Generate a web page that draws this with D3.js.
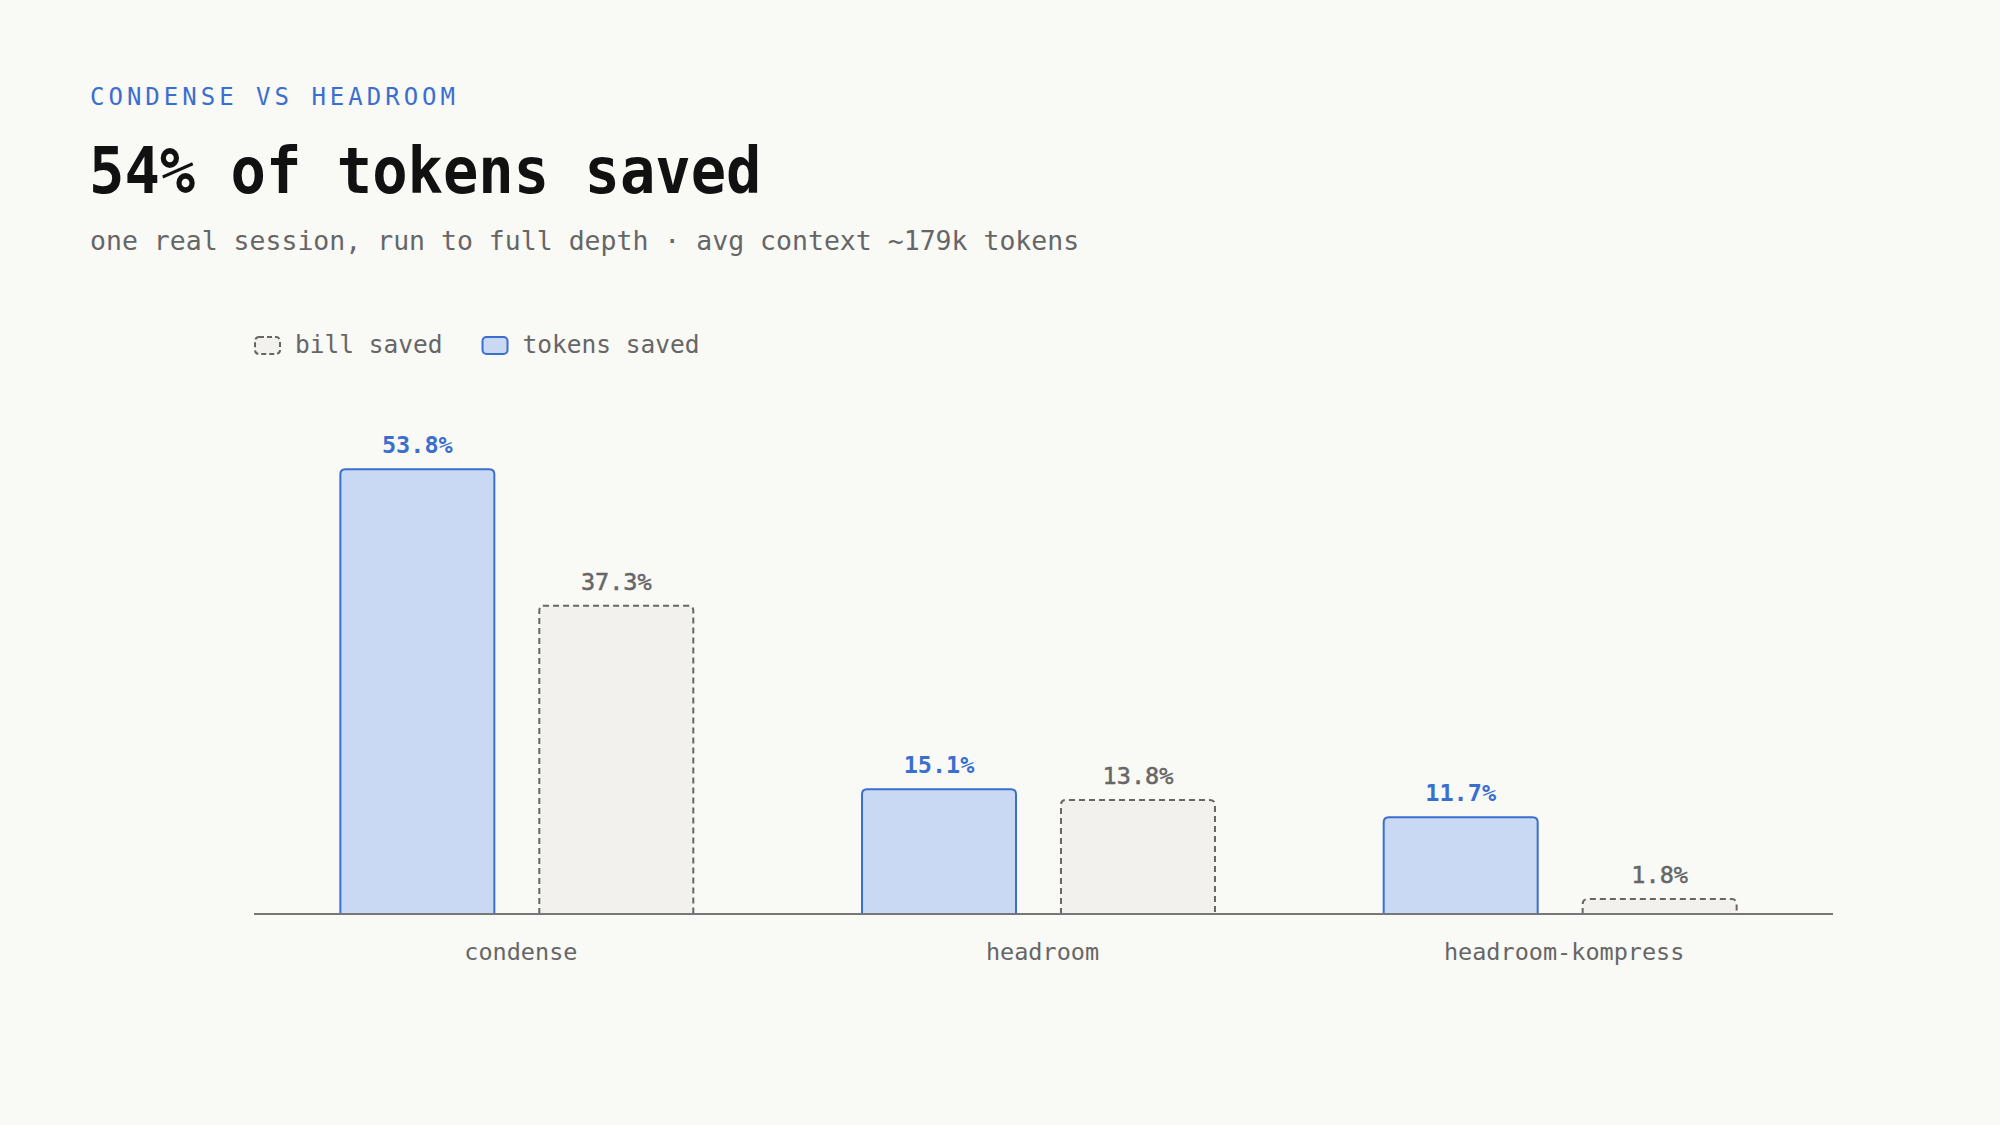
<!DOCTYPE html>
<html>
<head>
<meta charset="utf-8">
<script src="https://cdn.jsdelivr.net/npm/d3@7"></script>
<style>
  html, body { margin: 0; padding: 0; background: #f9f9f6; }
  svg { display: block; font-family: "DejaVu Sans Mono", "Liberation Mono", monospace; }
</style>
</head>
<body>
<div id="chart"></div>
<script>
// data
var categories = ['condense', 'headroom', 'headroom-kompress'];
var series = ['tokens', 'bill'];
var tokensSaved = [53.8, 15.1, 11.7];
var billSaved = [37.3, 13.8, 1.8];
var legendItems = [{key: 'bill', label: 'bill saved'}, {key: 'tokens', label: 'tokens saved'}];

var W = 2000, H = 1125;
var margin = {left: 256, right: 179, top: 418, bottom: 211};
var axisX = [254, 1833];
var blue = '#3a6fcf';
var grey = '#666';

var svg = d3.select('#chart').append('svg')
	.attr('width', W)
	.attr('height', H);

svg.append('rect').attr('width', W).attr('height', H).attr('fill', '#f9f9f6');

// Header
svg.append('text')
	.attr('x', 90).attr('y', 105)
	.attr('fill', blue)
	.attr('font-size', 24)
	.attr('letter-spacing', 4)
	.text('CONDENSE VS HEADROOM');

svg.append('text')
	.attr('transform', 'translate(89,193) scale(1,1.08)')
	.attr('fill', '#111')
	.attr('font-size', 58.8)
	.attr('font-weight', 'bold')
	.text('54% of tokens saved');

svg.append('text')
	.attr('x', 90).attr('y', 250)
	.attr('fill', grey)
	.attr('font-size', 26.5)
	.text('one real session, run to full depth \u00b7 avg context ~179k tokens');

// Scales
var x0 = d3.scaleBand()
	.domain(categories)
	.range([margin.left, W - margin.right]);

var x1 = d3.scaleBand()
	.domain(series)
	.range([0, x0.bandwidth()])
	.paddingInner(0.226)
	.paddingOuter(0.424);

var y = d3.scaleLinear()
	.domain([0, 60])
	.range([H - margin.bottom, margin.top]);

var rows = categories.map(function (c, i) {
	return {cat: c, values: [{key: 'tokens', v: tokensSaved[i]}, {key: 'bill', v: billSaved[i]}]};
});

// bar with rounded top corners only
function barPath(x, yTop, w, yBase, r) {
	r = Math.min(r, (yBase - yTop));
	return 'M' + x + ',' + yBase +
		'V' + (yTop + r) +
		'Q' + x + ',' + yTop + ' ' + (x + r) + ',' + yTop +
		'H' + (x + w - r) +
		'Q' + (x + w) + ',' + yTop + ' ' + (x + w) + ',' + (yTop + r) +
		'V' + yBase;
}

var groups = svg.append('g').selectAll('g')
	.data(rows).enter().append('g')
	.attr('transform', function (d) { return 'translate(' + x0(d.cat) + ',0)'; });

groups.selectAll('path')
	.data(function (d) { return d.values; })
	.enter().append('path')
	.attr('d', function (d) {
		return barPath(x1(d.key), y(d.v), x1.bandwidth(), y(0), 5);
	})
	.attr('fill', function (d) { return d.key === 'tokens' ? '#c9d9f3' : '#f2f1ee'; })
	.attr('stroke', function (d) { return d.key === 'tokens' ? blue : grey; })
	.attr('stroke-width', 2)
	.attr('stroke-dasharray', function (d) { return d.key === 'tokens' ? null : '6,4'; });

groups.selectAll('text.val')
	.data(function (d) { return d.values; })
	.enter().append('text')
	.attr('class', 'val')
	.attr('x', function (d) { return x1(d.key) + x1.bandwidth() / 2; })
	.attr('y', function (d) { return y(d.v) - 16; })
	.attr('text-anchor', 'middle')
	.attr('font-size', 23.5)
	.attr('font-weight', function (d) { return d.key === 'tokens' ? 'bold' : 'normal'; })
	.attr('fill', function (d) { return d.key === 'tokens' ? blue : grey; })
	.attr('stroke', function (d) { return d.key === 'tokens' ? 'none' : grey; })
	.attr('stroke-width', 0.5)
	.text(function (d) { return d.v.toFixed(1) + '%'; });

// Baseline axis
var xAxis = svg.append('g')
	.attr('transform', 'translate(0,' + y(0) + ')')
	.call(d3.axisBottom(x0).tickSize(0).tickPadding(29));
xAxis.select('.domain').remove();
xAxis.append('line')
	.attr('x1', axisX[0]).attr('x2', axisX[1])
	.attr('stroke', '#777').attr('stroke-width', 2);
xAxis.selectAll('text')
	.attr('dx', 4)
	.attr('font-family', '"DejaVu Sans Mono", monospace')
	.attr('font-size', 23.5)
	.attr('fill', grey);

// Legend
var legend = svg.append('g').attr('transform', 'translate(254,336)');
var lx = 0;
legendItems.forEach(function (item) {
	var g = legend.append('g').attr('transform', 'translate(' + lx + ',0)');
	g.append('rect')
		.attr('x', 1).attr('y', 1)
		.attr('width', 25).attr('height', 17)
		.attr('rx', 4)
		.attr('fill', item.key === 'tokens' ? '#c9d9f3' : '#f2f1ee')
		.attr('stroke', item.key === 'tokens' ? blue : grey)
		.attr('stroke-width', 2)
		.attr('stroke-dasharray', item.key === 'tokens' ? null : '5,3');
	var t = g.append('text')
		.attr('x', 41).attr('y', 17)
		.attr('font-size', 24.5)
		.attr('fill', grey)
		.text(item.label);
	lx += 41 + t.node().getComputedTextLength() + 39;
});
</script>
</body>
</html>
